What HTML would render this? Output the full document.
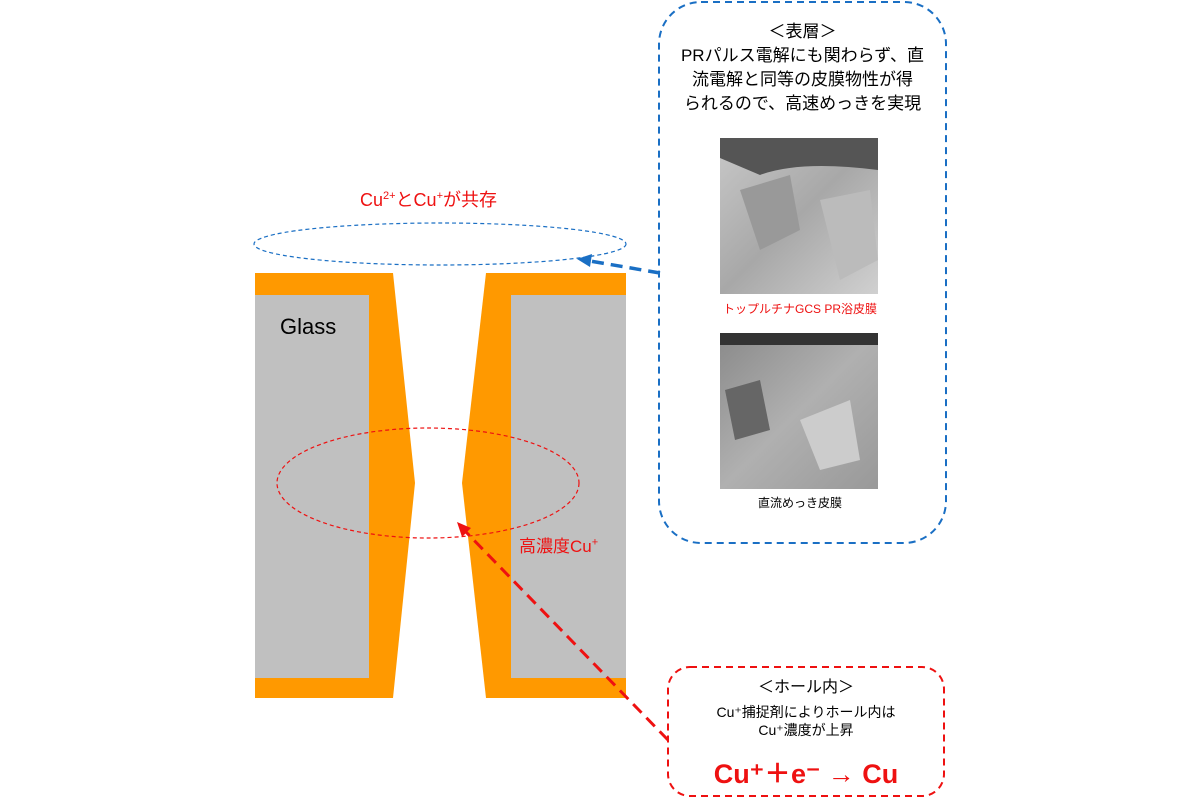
<!DOCTYPE html>
<html><head><meta charset="utf-8"><style>
body{margin:0;width:1200px;height:800px;background:#fff;overflow:hidden;font-family:"Liberation Sans","Noto Sans CJK JP",sans-serif;}
.t{position:absolute;white-space:nowrap;text-align:center}
</style></head><body>
<svg width="1200" height="800" style="position:absolute;left:0;top:0">
<defs>
<linearGradient id="g1" x1="0" y1="0" x2="1" y2="1"><stop offset="0" stop-color="#c8c8c8"/><stop offset="0.5" stop-color="#a8a8a8"/><stop offset="1" stop-color="#d0d0d0"/></linearGradient>
<linearGradient id="g2" x1="0" y1="0" x2="1" y2="1"><stop offset="0" stop-color="#8a8a8a"/><stop offset="0.5" stop-color="#b0b0b0"/><stop offset="1" stop-color="#999"/></linearGradient>
</defs>
<polygon points="255,273 393,273 415,483 393,698 255,698" fill="#ff9900"/>
<rect x="255" y="295" width="114" height="383" fill="#c0c0c0"/>
<polygon points="486,273 626,273 626,698 486,698 462,483" fill="#ff9900"/>
<rect x="511" y="295" width="115" height="383" fill="#c0c0c0"/>
<ellipse cx="440" cy="244" rx="186" ry="21" fill="none" stroke="#1a6fc4" stroke-width="1.2" stroke-dasharray="4,3"/>
<ellipse cx="428" cy="483" rx="151" ry="55" fill="none" stroke="#ee1111" stroke-width="1.2" stroke-dasharray="4,3"/>
<rect x="659" y="2" width="287" height="541" rx="42" fill="none" stroke="#1a6fc4" stroke-width="2" stroke-dasharray="7,5"/>
<rect x="668" y="667" width="276" height="129" rx="22" fill="none" stroke="#ee1111" stroke-width="2" stroke-dasharray="7,5"/>
<rect x="720" y="138" width="158" height="156" fill="url(#g1)"/>
<polygon points="740,190 790,175 800,230 760,250" fill="#999"/>
<polygon points="820,200 870,190 878,260 840,280" fill="#bbb"/>
<path d="M720,138 L878,138 L878,170 Q800,160 760,175 L720,158 Z" fill="#555"/>
<rect x="720" y="333" width="158" height="156" fill="url(#g2)"/>
<polygon points="725,390 760,380 770,430 735,440" fill="#666"/>
<polygon points="800,420 850,400 860,460 820,470" fill="#ccc"/>
<rect x="720" y="333" width="158" height="12" fill="#333"/>
<line x1="660" y1="273" x2="590" y2="261" stroke="#1a6fc4" stroke-width="3.5" stroke-dasharray="12,7"/>
<polygon points="577,259 592,254 590,267" fill="#1a6fc4"/>
<line x1="668" y1="740" x2="466" y2="532" stroke="#ee1111" stroke-width="3" stroke-dasharray="12,7"/>
<polygon points="457,522 471,528 462,537" fill="#ee1111"/>
</svg>
<div class="t" style="left:280px;top:314px;font-size:22px">Glass</div>
<div class="t" style="left:360px;top:186px;font-size:18px;color:#ee1111">Cu<sup style="font-size:11px">2+</sup>とCu<sup style="font-size:11px">+</sup>が共存</div>
<div class="t" style="left:519px;top:532px;font-size:17px;color:#ee1111">高濃度Cu<sup style="font-size:11px">+</sup></div>
<div class="t" style="left:659px;top:20px;width:287px;font-size:17px;line-height:24px">＜表層＞<br>PRパルス電解にも関わらず、直<br>流電解と同等の皮膜物性が得<br>られるので、高速めっきを実現</div>
<div class="t" style="left:700px;top:300px;width:200px;font-size:12px;color:#ee1111">トップルチナGCS PR浴皮膜</div>
<div class="t" style="left:700px;top:494px;width:200px;font-size:12px">直流めっき皮膜</div>
<div class="t" style="left:668px;top:678px;width:276px;font-size:16px;line-height:20px">＜ホール内＞</div>
<div class="t" style="left:668px;top:703px;width:276px;font-size:14px;line-height:18px">Cu⁺捕捉剤によりホール内は<br>Cu⁺濃度が上昇</div>
<div class="t" style="left:668px;top:752px;width:276px;font-size:27px;font-weight:bold;color:#ee1111">Cu⁺＋e⁻ → Cu</div>
</body></html>
